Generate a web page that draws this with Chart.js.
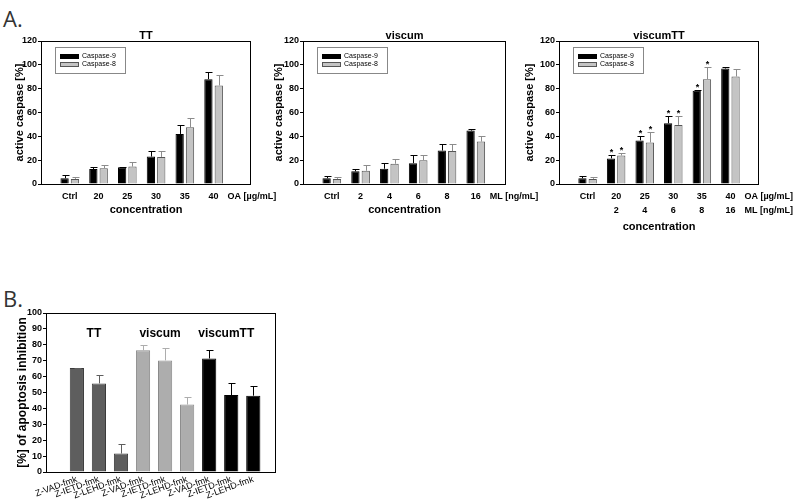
<!DOCTYPE html>
<html>
<head>
<meta charset="utf-8">
<script src="https://cdn.jsdelivr.net/npm/chart.js@4/dist/chart.umd.min.js"></script>
<style>
  html, body { margin: 0; padding: 0; background: #fff; }
  #wrap { position: relative; width: 800px; height: 503px; overflow: hidden; }
  canvas { position: absolute; left: 0; top: 0; }
  .tag { position: absolute; font-family: 'Open Sans', sans-serif; font-size: 22px; line-height: 24px; color: #333; }
</style>
</head>
<body>
<div id="wrap">
  <div class="tag" style="left:3px; top:6px">A.</div>
  <div class="tag" style="left:3px; top:286px">B.</div>
  <canvas id="ttChart" width="800" height="503"></canvas>
  <canvas id="viscumChart" width="800" height="503"></canvas>
  <canvas id="comboChart" width="800" height="503"></canvas>
  <canvas id="inhibChart" width="800" height="503"></canvas>
</div>
<script>
// tick labels
const oaLabels = ['Ctrl', '20', '25', '30', '35', '40'];
const mlLabels = ['Ctrl', '2', '4', '6', '8', '16'];
const inhibitors = ['Z-VAD-fmk', 'Z-IETD-fmk', 'Z-LEHD-fmk'];

// A. active caspase [%] (mean, upper SD)
const ttCasp9 = [4.8, 12.5, 14.0, 23.0, 42.0, 88.0];
const ttCasp9Err = [2.4, 2.1, 0.4, 4.3, 7.5, 6.2];
const ttCasp8 = [4.3, 13.2, 14.6, 22.7, 47.6, 82.7];
const ttCasp8Err = [1.9, 3.1, 3.8, 5.1, 8.2, 8.6];

const viscumCasp9 = [4.8, 10.6, 12.8, 17.5, 28.1, 44.8];
const viscumCasp9Err = [2.3, 1.9, 4.8, 7.0, 5.3, 1.1];
const viscumCasp8 = [4.3, 11.1, 17.0, 20.0, 27.6, 35.6];
const viscumCasp8Err = [1.9, 5.0, 3.9, 4.5, 5.8, 4.8];

const comboCasp9 = [4.8, 21.5, 36.6, 51.0, 78.2, 96.9];
const comboCasp9Err = [2.3, 2.5, 3.8, 6.0, 1.1, 1.7];
const comboCasp8 = [4.3, 23.9, 34.8, 49.6, 88.0, 90.2];
const comboCasp8Err = [1.9, 2.0, 8.6, 7.4, 10.3, 6.1];
const comboSignif = [false, true, true, true, true, false];

// B. [%] of apoptosis inhibition
const ttInhib = [65.4, 55.7, 11.6];
const ttInhibErr = [0.3, 5.2, 5.7];
const viscumInhib = [76.5, 70.2, 42.4];
const viscumInhibErr = [3.5, 7.8, 4.9];
const comboInhib = [71.4, 48.4, 48.0];
const comboInhibErr = [5.2, 7.4, 5.9];

const W = 800, H = 503;
const FONT = "'Liberation Sans', Arial, sans-serif";
Chart.defaults.font.family = FONT;
Chart.defaults.color = '#000';

// error bars, stars, frame, inner legend, titles
const panelPlugin = {
  id: 'panel',
  afterDatasetsDraw(chart, args, opts) {
    const ctx = chart.ctx, a = chart.chartArea;
    const xs = chart.scales.x, ys = chart.scales.y;
    ctx.save();
    ctx.lineWidth = 1;
    chart.data.datasets.forEach((ds, i) => {
      chart.getDatasetMeta(i).data.forEach((bar, j) => {
        const top = Math.round(ys.getPixelForValue(ds.data[j].y + ds.errors[j])) + 0.5;
        const bx = Math.round(bar.x) + 0.5;
        ctx.strokeStyle = ds.errorColor;
        ctx.beginPath();
        ctx.moveTo(bx, bar.y);
        ctx.lineTo(bx, top);
        ctx.moveTo(bx - 3, top);
        ctx.lineTo(bx + 4, top);
        ctx.stroke();
        if (ds.stars && ds.stars[j]) {
          ctx.fillStyle = '#000';
          ctx.font = 'bold 9px ' + FONT;
          ctx.textAlign = 'center';
          ctx.textBaseline = 'alphabetic';
          ctx.fillText('*', bx, top - 1);
        }
      });
    });

    ctx.strokeStyle = '#000';
    ctx.strokeRect(a.left + 0.5, a.top + 0.5, a.width - 1, a.height);

    if (opts.title) {
      ctx.fillStyle = '#000';
      ctx.font = 'bold 11px ' + FONT;
      ctx.textAlign = 'center';
      ctx.textBaseline = 'alphabetic';
      ctx.fillText(opts.title, (a.left + a.right) / 2, a.top - 2);
    }

    if (opts.legend) {
      const lx = a.left + 14, ly = a.top + 6;
      ctx.strokeStyle = '#888';
      ctx.strokeRect(lx + 0.5, ly + 0.5, 70, 26);
      chart.data.datasets.forEach((ds, i) => {
        const yy = ly + 9 + i * 8;
        ctx.fillStyle = ds.backgroundColor;
        ctx.fillRect(lx + 5, yy - 2, 19, 5);
        ctx.strokeStyle = ds.borderColor;
        ctx.strokeRect(lx + 5.5, yy - 1.5, 18, 4);
        ctx.fillStyle = '#000';
        ctx.font = '7px ' + FONT;
        ctx.textAlign = 'left';
        ctx.textBaseline = 'middle';
        ctx.fillText(ds.label, lx + 27, yy + 0.5);
      });
    }

    if (opts.units) {
      const last = xs.ticks[xs.ticks.length - 1].value;
      const ux = xs.getPixelForValue(last) + 14;
      ctx.fillStyle = '#000';
      ctx.font = 'bold 9px ' + FONT;
      ctx.textAlign = 'left';
      ctx.textBaseline = 'middle';
      opts.units.forEach((u, i) => ctx.fillText(u, ux, xs.top + 6 + 6.75 + i * 13.5));
    }

    if (opts.groupLabels) {
      ctx.fillStyle = '#000';
      ctx.font = 'bold 12px ' + FONT;
      ctx.textAlign = 'center';
      ctx.textBaseline = 'middle';
      chart.data.datasets.forEach((ds, i) => {
        const bars = chart.getDatasetMeta(i).data;
        const cx = bars.reduce((s, b) => s + b.x, 0) / bars.length;
        ctx.fillText(ds.label, cx - 5, ys.getPixelForValue(opts.groupLabelAt));
      });
    }
    ctx.restore();
  }
};

function yAxis(max, step, title, titleSize, frame) {
  return {
    min: 0, max: max,
    ticks: { stepSize: step, padding: 1, font: { size: 9, weight: 'bold' }, color: '#000' },
    grid: { display: true, drawOnChartArea: false, drawTicks: true, tickLength: 3, color: '#000' },
    border: { display: false },
    title: {
      display: true, text: title, color: '#000',
      font: { size: titleSize, weight: 'bold' },
      padding: { top: frame.titleX - titleSize * 0.6, bottom: 0 }
    },
    afterFit: s => { s.width = frame.left; }
  };
}

function xAxis(frame, tickValues, labelFn, title, rotation, font) {
  return {
    type: 'linear', min: frame.xmin, max: frame.xmax, offset: false,
    afterBuildTicks: s => { s.ticks = tickValues.map(v => ({ value: v })); },
    ticks: {
      autoSkip: false, minRotation: rotation, maxRotation: rotation,
      padding: frame.tickPad, font: font, color: '#000',
      callback: v => labelFn(v)
    },
    grid: { display: false, drawTicks: false, offset: false },
    border: { display: false },
    title: { display: !!title, text: title, color: '#000', font: { size: 11, weight: 'bold' }, padding: 0 },
    afterFit: s => { s.height = frame.xh; }
  };
}

function framePadding(frame) {
  return { left: 0, top: frame.top, right: W - frame.right, bottom: H - frame.bottom - frame.xh };
}

function caspaseChart(id, name, frame, labelFn, units, c9, e9, c8, e8, stars) {
  const pos = [1, 2, 3, 4, 5, 6];
  return new Chart(document.getElementById(id), {
    type: 'bar',
    data: {
      datasets: [
        { label: 'Caspase-9', data: c9.map((v, i) => ({ x: pos[i], y: v })), errors: e9, stars: stars,
          backgroundColor: '#000000', borderColor: '#000000', borderWidth: 1, errorColor: '#000000' },
        { label: 'Caspase-8', data: c8.map((v, i) => ({ x: pos[i], y: v })), errors: e8, stars: stars,
          backgroundColor: '#c4c4c4', borderColor: '#555555', borderWidth: 1, errorColor: '#8c8c8c' }
      ]
    },
    options: {
      responsive: false, animation: false, events: [],
      layout: { padding: framePadding(frame) },
      datasets: { bar: { categoryPercentage: 0.72, barPercentage: 0.8 } },
      scales: {
        x: xAxis(frame, pos, labelFn, 'concentration', 0, { size: 9, weight: 'bold', lineHeight: 1.5 }),
        y: yAxis(120, 20, 'active caspase [%]', 11, frame)
      },
      plugins: {
        legend: { display: false }, tooltip: { enabled: false },
        panel: { title: name, legend: true, units: units }
      }
    },
    plugins: [panelPlugin]
  });
}

caspaseChart('ttChart', 'TT',
  { left: 41, right: 251, top: 41, bottom: 184, xh: 33, xmin: 0, xmax: 7.3, tickPad: 6, titleX: 20 },
  v => oaLabels[v - 1], ['OA [µg/mL]'],
  ttCasp9, ttCasp9Err, ttCasp8, ttCasp8Err, null);

caspaseChart('viscumChart', 'viscum',
  { left: 303, right: 506, top: 41, bottom: 184, xh: 33, xmin: 0, xmax: 7.05, tickPad: 6, titleX: 279 },
  v => mlLabels[v - 1], ['ML [ng/mL]'],
  viscumCasp9, viscumCasp9Err, viscumCasp8, viscumCasp8Err, null);

caspaseChart('comboChart', 'viscumTT',
  { left: 559, right: 759, top: 41, bottom: 184, xh: 50, xmin: 0, xmax: 7, tickPad: 6, titleX: 530 },
  v => (v === 1 ? oaLabels[0] : [oaLabels[v - 1], mlLabels[v - 1]]), ['OA [µg/mL]', 'ML [ng/mL]'],
  comboCasp9, comboCasp9Err, comboCasp8, comboCasp8Err, comboSignif);

// B. inhibitor panel
const inhibFrame = { left: 46, right: 276, top: 313, bottom: 472, xh: 31, xmin: -1.4, xmax: 9.03, tickPad: 2, titleX: 23 };
const groupPos = [[0, 1, 2], [3, 4, 5], [6, 7, 8]];
function groupSet(g, label, vals, errs, color, border) {
  return {
    label: label, data: vals.map((v, i) => ({ x: groupPos[g][i], y: v })), errors: errs,
    backgroundColor: color, borderColor: border, borderWidth: 1, errorColor: color, grouped: false
  };
}

new Chart(document.getElementById('inhibChart'), {
  type: 'bar',
  data: {
    datasets: [
      groupSet(0, 'TT', ttInhib, ttInhibErr, '#5e5e5e', '#3a3a3a'),
      groupSet(1, 'viscum', viscumInhib, viscumInhibErr, '#adadad', '#8a8a8a'),
      groupSet(2, 'viscumTT', comboInhib, comboInhibErr, '#000000', '#000000')
    ]
  },
  options: {
    responsive: false, animation: false, events: [],
    layout: { padding: framePadding(inhibFrame) },
    datasets: { bar: { categoryPercentage: 0.7, barPercentage: 0.92 } },
    scales: {
      x: xAxis(inhibFrame, groupPos.flat(), v => inhibitors[v % 3], '', 20, { size: 9 }),
      y: yAxis(100, 10, '[%] of apoptosis inhibition', 12, inhibFrame)
    },
    plugins: {
      legend: { display: false }, tooltip: { enabled: false },
      panel: { groupLabels: true, groupLabelAt: 87 }
    }
  },
  plugins: [panelPlugin]
});
</script>
</body>
</html>
